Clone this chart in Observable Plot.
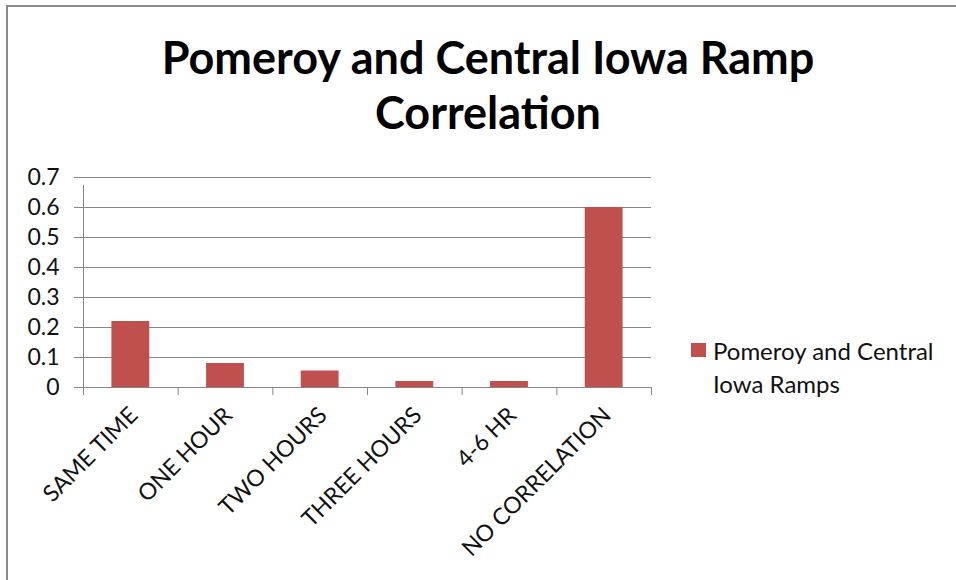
<!DOCTYPE html>
<html>
<head>
<meta charset="utf-8">
<script src="https://cdn.jsdelivr.net/npm/d3@7"></script>
<script src="https://cdn.jsdelivr.net/npm/@observablehq/plot@0.6"></script>
<style>
  body { margin: 0; background: #fff; }
  #wrap { position: relative; width: 956px; height: 580px; overflow: hidden; font-family: Lato, "Open Sans", sans-serif; }
  #frame { position: absolute; left: 6px; top: 5px; width: 960px; height: 600px; border-top: 2px solid #8a8a8a; border-left: 2px solid #8a8a8a; }
  #title { position: absolute; left: 0; width: 976px; top: 30px; text-align: center; font-weight: bold; font-size: 45px; line-height: 55px; color: #000; }
  #chart { position: absolute; left: 0; top: 150px; }
  #legend { position: absolute; left: 691px; top: 334px; font-size: 24px; line-height: 33px; color: #111; }
  #legend .sw { position: absolute; left: 0; top: 9px; width: 15px; height: 14px; }
  #legend .lbl { position: absolute; left: 22px; top: 0; white-space: nowrap; }
</style>
</head>
<body>
<div id="wrap">
  <div id="frame"></div>
  <div id="title"></div>
  <div id="chart"></div>
  <div id="legend"></div>
</div>
<script>
const titleLines = ["Pomeroy and Central Iowa Ramp", "Correlation"];
const categories = ["SAME TIME", "ONE HOUR", "TWO HOURS", "THREE HOURS", "4-6 HR", "NO CORRELATION"];
const values = [0.22, 0.08, 0.055, 0.02, 0.02, 0.6];
const yTicks = [0, 0.1, 0.2, 0.3, 0.4, 0.5, 0.6, 0.7];
const seriesName = ["Pomeroy and Central", "Iowa Ramps"];
const barColor = "#C0504D";

document.getElementById("title").innerHTML = titleLines.join("<br>");

const data = categories.map((c, i) => ({cat: c, i, v: values[i]}));
const boundaries = d3.range(categories.length + 1);

const chart = Plot.plot({
  width: 956,
  height: 430,
  marginLeft: 83,
  marginRight: 305,
  marginTop: 27,
  marginBottom: 193,
  style: {fontFamily: "Lato, 'Open Sans', sans-serif", background: "transparent"},
  x: {type: "linear", domain: [0, categories.length], axis: null},
  y: {type: "linear", domain: [0, 0.7], axis: null},
  marks: [
    Plot.gridY(yTicks, {stroke: "#878787", strokeOpacity: 1, strokeWidth: 1}),
    Plot.axisY(yTicks, {
      tickSize: 9, tickPadding: 15, stroke: "#878787", strokeOpacity: 1,
      fontSize: 23, fill: "#111", tickFormat: d => String(d), label: null
    }),
    Plot.ruleX([0], {x: d => d, y1: 0, y2: 0.7, stroke: "#878787", strokeWidth: 1, insetBottom: -8}),
    Plot.ruleX(boundaries, {x: d => d, y1: 0, y2: 0, stroke: "#878787", strokeWidth: 1, insetBottom: -8}),
    Plot.rectY(data, {x1: d => d.i + 0.3, x2: d => d.i + 0.7, y1: 0, y2: "v", fill: barColor}),
    Plot.text(data, {
      x: d => d.i + 0.5, y: 0, text: "cat", rotate: -45, textAnchor: "end", lineAnchor: "middle",
      dx: 3, dy: 24, fontSize: 23, fill: "#111"
    })
  ]
});
document.getElementById("chart").appendChild(chart);

const lg = document.getElementById("legend");
lg.innerHTML = `<div class="sw" style="background:${barColor}"></div><div class="lbl">${seriesName.join("<br>")}</div>`;
</script>
</body>
</html>
